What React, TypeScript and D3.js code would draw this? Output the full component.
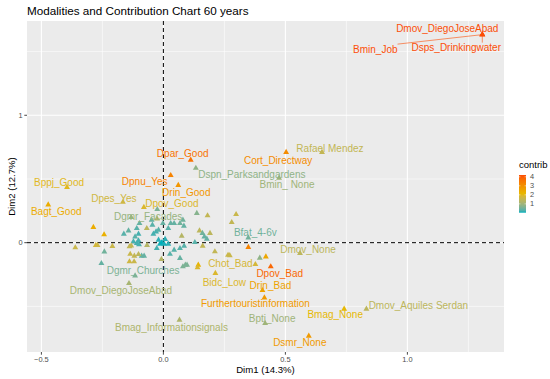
import React, { useEffect, useRef } from "react";
import * as d3 from "d3";

// labelled modalities
const modalityNames = [
  "Dmov_DiegoJoseAbad", "Bmin_Job", "Dsps_Drinkingwater", "Dpar_Good", "Dpnu_Yes",
  "Drin_Good", "Dspn_Parksandgardens", "Cort_Directway", "Rafael Mendez", "Bmin_ None",
  "Bppj_Good", "Bagt_Good", "Dpes_Yes", "Dpov_Good", "Dgmr_Facades",
  "Bfat_4-6v", "Dmov_None", "Chot_Bad", "Dpov_Bad", "Drin_Bad",
  "Bidc_Low", "Furthertouristinformation", "Bpti_None", "Bmag_None", "Dmov_Aquiles Serdan",
  "Dsmr_None", "Bmag_Informationsignals", "Dmov_DiegoJoseAbad", "Dgmr_Churches",
];
const modalityDim1 = [
  1.307, 1.307, 1.307, 0.112, 0.030,
  0.061, 0.133, 0.503, 0.650, 0.474,
  -0.395, -0.472, -0.166, -0.080, -0.132,
  0.348, 0.560, 0.377, 0.440, 0.406,
  0.213, 0.414, 0.417, 0.741, 0.832,
  0.596, 0.066, -0.141, -0.116,
];
const modalityDim2 = [
  1.633, 1.633, 1.633, 0.649, 0.529,
  0.451, 0.586, 0.710, 0.710, 0.508,
  0.435, 0.298, 0.319, 0.278, 0.199,
  0.039, -0.083, -0.170, -0.188, -0.374,
  -0.240, -0.432, -0.633, -0.520, -0.520,
  -0.732, -0.607, -0.319, -0.259,
];
const modalityContrib = [
  4.2, 4.2, 4.2, 3.6, 3.3,
  2.9, 0.8, 3.1, 1.5, 1.0,
  2.0, 2.4, 1.7, 1.9, 0.9,
  0.5, 1.4, 1.8, 3.8, 2.6,
  1.9, 2.8, 1.0, 2.1, 1.4,
  2.8, 1.2, 1.1, 0.6,
];

// label nudges in px (repel layout), same order as modalityNames
const labelNudge: [number, number][] = [
  [-35, -6], [-107, 14.5], [-26, 13], [-8, -6], [-26, 6],
  [8, 7], [56, 6], [-8, 8], [8, -4], [8, 7],
  [-8, -5], [8, 7], [-9, -4], [28, -4], [17, -1],
  [7, -5], [8, -4], [-25, -1], [9, 7], [8, -5],
  [9, 9], [-9, 6], [7, -5], [-9, 6], [52, -3],
  [-9, 7], [-8, 7], [-8, 7], [8, -5],
];

// unlabelled modalities
const otherDim1 = [
  -0.287, -0.243, -0.361, -0.277, -0.270, -0.209, -0.242, -0.254,
  -0.162, -0.143, -0.109, -0.102, -0.098, -0.116, -0.123, -0.102,
  -0.068, -0.048, -0.045, -0.025, -0.026, -0.041, -0.030, -0.020,
  -0.020, -0.002, 0.007, 0.020, 0.030, 0.044, 0.068, 0.080,
  0.084, 0.075, 0.137, 0.181, 0.148, 0.160, 0.168, 0.178,
  0.191, 0.280, 0.298, -0.014, -0.007, 0.003, 0.020, -0.027,
  -0.089, -0.079, -0.067, -0.139, -0.132, -0.109, -0.100, -0.136,
  -0.119, -0.102, -0.139, -0.120, -0.008, 0.027, 0.044, 0.068,
  0.068, 0.080, 0.090, 0.097, 0.085, 0.143, 0.140, 0.161,
  0.211, 0.265, 0.272, 0.348, 0.395, 0.420, 0.129,
];
const otherDim2 = [
  0.121, 0.063, -0.039, -0.020, -0.020, -0.028, -0.071, -0.162,
  0.068, 0.094, 0.113, 0.068, 0.152, 0.047, 0.008, 0.016,
  0.113, 0.178, 0.139, 0.262, 0.188, 0.068, 0.086, 0.100,
  0.021, 0.152, 0.027, 0.113, 0.152, 0.152, 0.152, 0.178,
  0.131, 0.053, 0.231, 0.212, 0.094, 0.074, 0.047, 0.029,
  0.074, 0.160, 0.223, -0.010, 0.000, -0.010, -0.010, -0.044,
  -0.104, -0.104, -0.020, -0.031, -0.024, -0.005, -0.014, -0.089,
  -0.104, -0.091, -0.149, -0.149, -0.130, -0.089, -0.057, -0.044,
  -0.122, -0.188, -0.175, -0.175, -0.026, -0.175, -0.195, -0.026,
  -0.070, -0.097, -0.100, -0.036, -0.120, -0.110, 0.003,
];
const otherContrib = [
  2.4, 2.3, 1.6, 1.8, 1.7, 1.6, 0.5, 0.4,
  0.3, 0.4, 0.3, 0.2, 0.4, 0.3, 0.2, 0.2,
  1.4, 0.4, 0.3, 0.6, 1.3, 0.2, 0.2, 0.3,
  0.1, 0.4, 0.1, 0.3, 0.4, 0.4, 0.5, 0.5,
  0.4, 1.3, 0.7, 1.5, 1.4, 0.5, 0.4, 0.4,
  1.4, 1.5, 1.6, 0.05, 0.02, 0.05, 0.1, 0.2,
  0.4, 0.4, 1.3, 1.5, 1.5, 0.2, 0.2, 1.6,
  1.5, 1.4, 1.7, 1.6, 1.3, 0.3, 0.3, 0.3,
  0.4, 0.6, 0.6, 0.6, 0.3, 2.2, 1.9, 1.5,
  1.5, 1.6, 1.6, 3.3, 0.8, 2.5, 0.3,
];

const xTicks = [-0.5, 0, 0.5, 1.0];
const xMinor = [-0.25, 0.25, 0.75, 1.25];
const yTicks = [0, 1];
const yMinor = [-0.5, 0.5, 1.5];
const legendTicks = [1, 2, 3, 4];
const gradientCols = ["#00AFBB", "#E7B800", "#FC4E07"];

const FONT = "'Liberation Sans', Arial, sans-serif";

export default function App() {
  const svgRef = useRef<SVGSVGElement>(null);
  const width = 550;
  const height = 379;
  const panel = { left: 27, right: 504, top: 21, bottom: 352 };

  useEffect(() => {
    const svg = d3.select(svgRef.current);
    svg.selectAll("*").remove();

    const x = d3.scaleLinear().domain([-0.559, 1.396]).range([panel.left, panel.right]);
    const y = d3.scaleLinear().domain([-0.858, 1.74]).range([panel.bottom, panel.top]);

    const allC = [...modalityContrib, ...otherContrib];
    const cMin = d3.min(allC)!;
    const cMax = d3.max(allC)!;
    const color = d3
      .scaleLinear<string>()
      .domain([cMin, (cMin + cMax) / 2, cMax])
      .range(gradientCols)
      .interpolate(d3.interpolateLab);

    // panel background + grid
    svg.append("rect")
      .attr("x", panel.left).attr("y", panel.top)
      .attr("width", panel.right - panel.left).attr("height", panel.bottom - panel.top)
      .attr("fill", "#EBEBEB");

    xMinor.forEach((v) => {
      svg.append("line").attr("x1", x(v)).attr("x2", x(v))
        .attr("y1", panel.top).attr("y2", panel.bottom)
        .attr("stroke", "#fff").attr("stroke-width", 0.55);
    });
    yMinor.forEach((v) => {
      svg.append("line").attr("y1", y(v)).attr("y2", y(v))
        .attr("x1", panel.left).attr("x2", panel.right)
        .attr("stroke", "#fff").attr("stroke-width", 0.55);
    });
    xTicks.forEach((v) => {
      svg.append("line").attr("x1", x(v)).attr("x2", x(v))
        .attr("y1", panel.top).attr("y2", panel.bottom)
        .attr("stroke", "#fff").attr("stroke-width", 1.1);
    });
    yTicks.forEach((v) => {
      svg.append("line").attr("y1", y(v)).attr("y2", y(v))
        .attr("x1", panel.left).attr("x2", panel.right)
        .attr("stroke", "#fff").attr("stroke-width", 1.1);
    });

    // dashed reference lines
    svg.append("line").attr("x1", panel.left).attr("x2", panel.right)
      .attr("y1", y(0)).attr("y2", y(0))
      .attr("stroke", "#000").attr("stroke-width", 1).attr("stroke-dasharray", "4,3");
    svg.append("line").attr("x1", x(0)).attr("x2", x(0))
      .attr("y1", panel.top).attr("y2", panel.bottom)
      .attr("stroke", "#000").attr("stroke-width", 1).attr("stroke-dasharray", "4,3");

    // axes ticks + labels
    const axisG = svg.append("g").attr("font-family", FONT);
    xTicks.forEach((v) => {
      axisG.append("line").attr("x1", x(v)).attr("x2", x(v))
        .attr("y1", panel.bottom).attr("y2", panel.bottom + 2.7)
        .attr("stroke", "#333").attr("stroke-width", 0.9);
      axisG.append("text").attr("x", x(v)).attr("y", panel.bottom + 9.5)
        .attr("text-anchor", "middle").attr("font-size", 7.4).attr("fill", "#4D4D4D")
        .text(v === 0 ? "0.0" : d3.format(".1f")(v));
    });
    yTicks.forEach((v) => {
      axisG.append("line").attr("x1", panel.left - 2.7).attr("x2", panel.left)
        .attr("y1", y(v)).attr("y2", y(v))
        .attr("stroke", "#333").attr("stroke-width", 0.9);
      axisG.append("text").attr("x", panel.left - 4.5).attr("y", y(v)).attr("dy", "0.35em")
        .attr("text-anchor", "end").attr("font-size", 7.4).attr("fill", "#4D4D4D")
        .text(String(v));
    });
    axisG.append("text").attr("x", (panel.left + panel.right) / 2).attr("y", 373)
      .attr("text-anchor", "middle").attr("font-size", 9.6).attr("fill", "#000")
      .text("Dim1 (14.3%)");
    axisG.append("text")
      .attr("transform", `translate(14.5,${(panel.top + panel.bottom) / 2}) rotate(-90)`)
      .attr("text-anchor", "middle").attr("font-size", 9.6).attr("fill", "#000")
      .text("Dim2 (12.7%)");

    // title
    svg.append("text").attr("x", panel.left).attr("y", 14.5)
      .attr("font-family", FONT).attr("font-size", 11.7).attr("fill", "#000")
      .text("Modalities and Contribution Chart 60 years");

    // points
    const tri = d3.symbol().type(d3.symbolTriangle).size(15)();
    const pts = svg.append("g");
    otherDim1.forEach((d, i) => {
      pts.append("path").attr("d", tri)
        .attr("transform", `translate(${x(d)},${y(otherDim2[i])})`)
        .attr("fill", color(otherContrib[i]));
    });
    modalityDim1.forEach((d, i) => {
      pts.append("path").attr("d", tri)
        .attr("transform", `translate(${x(d)},${y(modalityDim2[i])})`)
        .attr("fill", color(modalityContrib[i]));
    });

    // labels with repel-style segments
    const labG = svg.append("g").attr("font-family", FONT).attr("font-size", 10);
    const segG = svg.insert("g", () => labG.node());
    modalityNames.forEach((name, i) => {
      const px = x(modalityDim1[i]);
      const py = y(modalityDim2[i]);
      const [dx, dy] = labelNudge[i];
      const cx = px + dx;
      const cy = py + dy;
      const col = color(modalityContrib[i]);
      const t = labG.append("text").attr("x", cx).attr("y", cy).attr("dy", "0.35em")
        .attr("text-anchor", "middle").attr("fill", col).text(name);
      const w = (t.node() as SVGTextElement).getComputedTextLength();
      const bx0 = cx - w / 2, bx1 = cx + w / 2, by0 = cy - 5, by1 = cy + 5;
      const nx = Math.max(bx0, Math.min(px, bx1));
      const ny = Math.max(by0, Math.min(py, by1));
      if (Math.hypot(nx - px, ny - py) > 6) {
        segG.append("line").attr("x1", px).attr("y1", py).attr("x2", nx).attr("y2", ny)
          .attr("stroke", col).attr("stroke-width", 0.6);
      }
    });

    // legend
    const lg = svg.append("g").attr("font-family", FONT);
    lg.append("text").attr("x", 519).attr("y", 168).attr("font-size", 9.5).attr("fill", "#000")
      .text("contrib");
    const barTop = 175, barBottom = 212.7, barX = 519, barW = 7;
    const defs = svg.append("defs");
    const grad = defs.append("linearGradient").attr("id", "contribGrad")
      .attr("x1", 0).attr("x2", 0).attr("y1", 1).attr("y2", 0);
    d3.range(0, 1.0001, 0.05).forEach((f) => {
      grad.append("stop").attr("offset", f).attr("stop-color", color(cMin + f * (cMax - cMin)));
    });
    lg.append("rect").attr("x", barX).attr("y", barTop).attr("width", barW)
      .attr("height", barBottom - barTop).attr("fill", "url(#contribGrad)");
    const ly = d3.scaleLinear().domain([cMin, cMax]).range([barBottom, barTop]);
    legendTicks.forEach((v) => {
      lg.append("line").attr("x1", barX).attr("x2", barX + 1.4).attr("y1", ly(v)).attr("y2", ly(v))
        .attr("stroke", "#fff").attr("stroke-width", 0.5);
      lg.append("line").attr("x1", barX + barW - 1.4).attr("x2", barX + barW).attr("y1", ly(v)).attr("y2", ly(v))
        .attr("stroke", "#fff").attr("stroke-width", 0.5);
      lg.append("text").attr("x", barX + barW + 4).attr("y", ly(v)).attr("dy", "0.35em")
        .attr("font-size", 7.4).attr("fill", "#4D4D4D").text(String(v));
    });
  }, []);

  return (
    <svg
      ref={svgRef}
      width={width}
      height={height}
      style={{ position: "absolute", left: 0, top: 0, background: "#fff" }}
    />
  );
}
